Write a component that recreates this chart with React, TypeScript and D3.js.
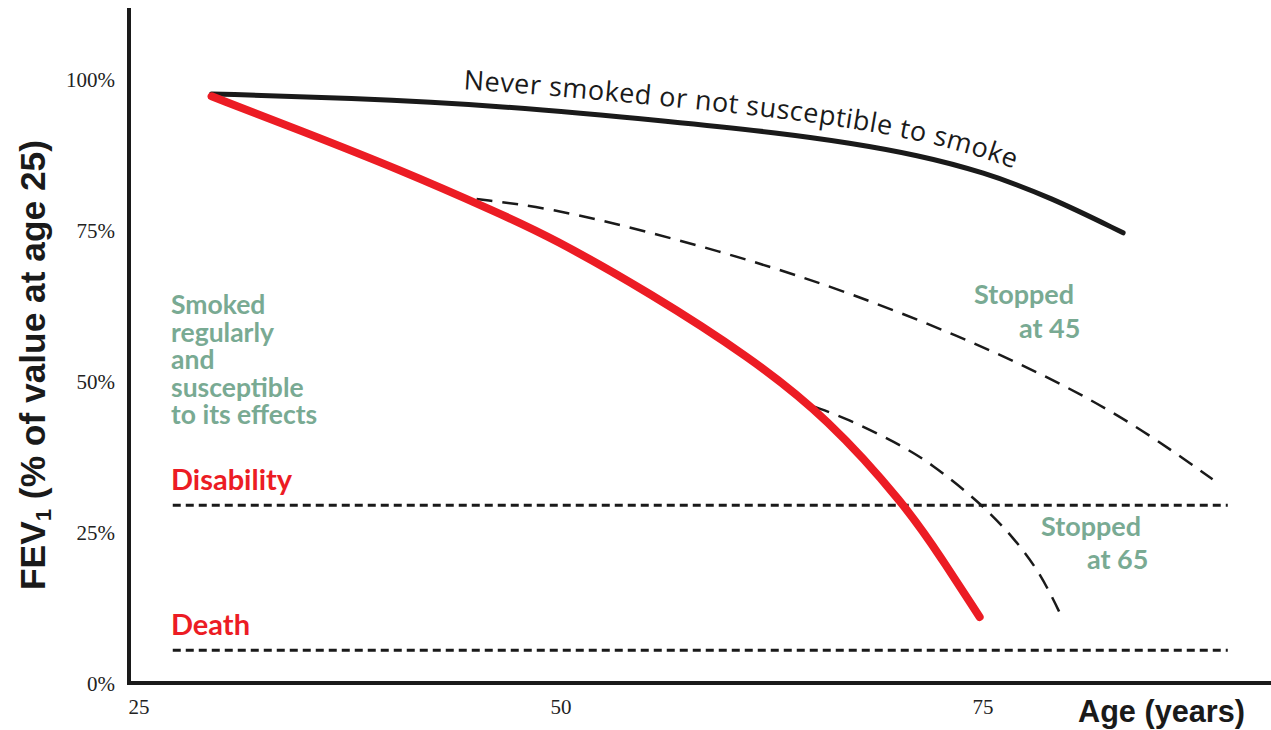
import React from 'react';
import * as d3 from 'd3';

// ages (years) and FEV1 (% of value at age 25)
const neverAges = [29.3, 37.5, 46.2, 57.0, 63.0, 67.1, 71.1, 75.0, 79.0, 83.3];
const neverFev = [97.7, 97.0, 95.8, 93.0, 91.2, 89.6, 87.6, 84.8, 80.6, 74.7];

const smokerAges = [29.3, 34.5, 40.5, 46.2, 49.4, 55.3, 61.2, 65.8, 70.4, 72.5, 74.8];
const smokerFev = [97.3, 91.7, 85.1, 78.1, 74.0, 64.7, 54.1, 44.0, 29.6, 21.0, 11.1];

const stop45Ages = [45.0, 49.4, 55.3, 61.2, 67.0, 73.6, 79.0, 83.9, 88.6];
const stop45Fev = [80.3, 78.8, 74.8, 70.2, 64.9, 57.6, 50.7, 43.2, 33.9];

const stop65Ages = [65.0, 66.9, 69.9, 71.9, 74.8, 76.8, 78.4, 79.7];
const stop65Fev = [45.9, 44.0, 39.9, 36.6, 30.1, 24.3, 18.4, 10.9];

const thresholdLevels = [
  { label: 'Disability', value: 29.6 },
  { label: 'Death', value: 5.6 },
];
const thresholdRange = [27.0, 89.5];

const ageTicks = [25, 50, 75];
const fevTicks = [0, 25, 50, 75, 100];

const smokerNote = ['Smoked', 'regularly', 'and', 'susceptible', 'to its effects'];

const RED = '#ec1c24';
const GREEN = '#79aa93';
const INK = '#1a1a1a';

const W = 1271;
const H = 730;

const zip = (a: number[], b: number[]) => a.map((v, i) => [v, b[i]] as [number, number]);

export default function App() {
  const x = d3.scaleLinear().domain([25, 75]).range([139, 983]);
  const y = d3.scaleLinear().domain([0, 100]).range([684, 80]);

  const line = d3
    .line<[number, number]>()
    .x((d) => x(d[0]))
    .y((d) => y(d[1]))
    .curve(d3.curveBasis);

  // same curve lifted a bit, the label runs along it
  const labelLine = d3
    .line<[number, number]>()
    .x((d) => x(d[0]))
    .y((d) => y(d[1]) - 15)
    .curve(d3.curveBasis);

  const never = zip(neverAges, neverFev);

  return (
    <svg
      width={W}
      height={H}
      style={{ position: 'absolute', left: 0, top: 0, background: '#fff' }}
    >
      <defs>
        <path id="never-label" d={labelLine(never) || ''} fill="none" />
      </defs>

      {/* axes frame */}
      <line x1={129} y1={8} x2={129} y2={685} stroke={INK} strokeWidth={4} />
      <line x1={127} y1={683} x2={W} y2={683} stroke={INK} strokeWidth={4} />

      {fevTicks.map((t) => (
        <text
          key={t}
          x={115}
          y={y(t) + 2}
          textAnchor="end"
          dominantBaseline="middle"
          fontFamily="'Liberation Serif', serif"
          fontSize={21}
          fill="#222"
        >
          {t}%
        </text>
      ))}
      {ageTicks.map((t) => (
        <text
          key={t}
          x={x(t)}
          y={714}
          textAnchor="middle"
          fontFamily="'Liberation Serif', serif"
          fontSize={21}
          fill="#222"
        >
          {t}
        </text>
      ))}

      {/* axis titles */}
      <text
        transform="translate(45,365) rotate(-90)"
        textAnchor="middle"
        fontFamily="'Liberation Sans Narrow', 'Liberation Sans', sans-serif"
        fontWeight="bold"
        fontSize={35}
        fill={INK}
        textLength={450}
        lengthAdjust="spacingAndGlyphs"
      >
        FEV<tspan fontSize={22} dy={6}>1</tspan>
        <tspan dy={-6}> (% of value at age 25)</tspan>
      </text>
      <text
        x={1078}
        y={722}
        fontFamily="'Liberation Sans Narrow', 'Liberation Sans', sans-serif"
        fontWeight="bold"
        fontSize={32}
        fill={INK}
        textLength={167}
        lengthAdjust="spacingAndGlyphs"
      >
        Age (years)
      </text>

      {/* disability / death thresholds */}
      {thresholdLevels.map((d) => (
        <g key={d.label}>
          <line
            x1={x(thresholdRange[0])}
            x2={x(thresholdRange[1])}
            y1={y(d.value)}
            y2={y(d.value)}
            stroke={INK}
            strokeWidth={3}
            strokeDasharray="8,5"
          />
          <text
            x={171}
            y={y(d.value) - 15}
            fontFamily="Lato, sans-serif"
            fontWeight="bold"
            fontSize={29}
            fill={RED}
          >
            {d.label}
          </text>
        </g>
      ))}

      {/* stopped smoking branches */}
      <path
        d={line(zip(stop45Ages, stop45Fev)) || ''}
        fill="none"
        stroke={INK}
        strokeWidth={2.5}
        strokeDasharray="16,10"
      />
      <path
        d={line(zip(stop65Ages, stop65Fev)) || ''}
        fill="none"
        stroke={INK}
        strokeWidth={2.5}
        strokeDasharray="16,10"
      />

      {/* never smoked */}
      <path d={line(never) || ''} fill="none" stroke={INK} strokeWidth={5} strokeLinecap="round" />

      {/* susceptible smoker */}
      <path
        d={line(zip(smokerAges, smokerFev)) || ''}
        fill="none"
        stroke={RED}
        strokeWidth={8}
        strokeLinecap="round"
      />

      <text fontFamily="'Open Sans', sans-serif" fontSize={27} letterSpacing={0.5} fill={INK}>
        <textPath href="#never-label" startOffset={252}>
          Never smoked or not susceptible to smoke
        </textPath>
      </text>

      {/* notes */}
      <text fontFamily="Lato, sans-serif" fontWeight="bold" fontSize={26.5} fill={GREEN}>
        {smokerNote.map((s, i) => (
          <tspan key={s} x={171} y={314 + i * 27.5}>
            {s}
          </tspan>
        ))}
      </text>
      <text fontFamily="Lato, sans-serif" fontWeight="bold" fontSize={27} fill={GREEN}>
        <tspan x={974} y={304}>Stopped</tspan>
        <tspan x={1019} y={338}>at 45</tspan>
      </text>
      <text fontFamily="Lato, sans-serif" fontWeight="bold" fontSize={27} fill={GREEN}>
        <tspan x={1041} y={536}>Stopped</tspan>
        <tspan x={1087} y={569}>at 65</tspan>
      </text>
    </svg>
  );
}
